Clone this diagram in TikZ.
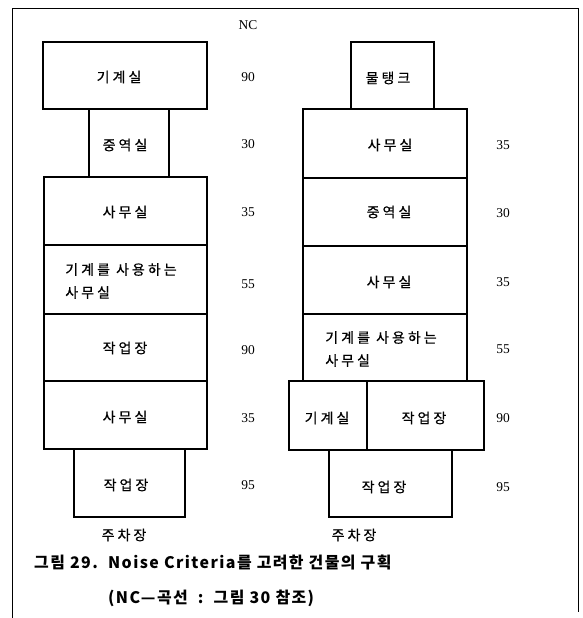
\documentclass[tikz,border=0pt]{standalone}
\usepackage{fontspec}
\setmainfont{Liberation Serif}
\newfontfamily\kr[LetterSpace=22,FakeBold=0.6]{Noto Sans CJK KR}
\newfontfamily\krcap[LetterSpace=9]{Noto Sans CJK KR}
\tikzset{
  room/.style={draw, line width=1.1pt},
  rtext/.style={font=\kr\fontsize{14}{23}\selectfont, inner sep=0pt, align=left},
  num/.style={font=\fontsize{13.5}{15}\selectfont, inner sep=0pt},
  captext/.style={font=\krcap\bfseries\fontsize{16}{17}\selectfont, inner sep=0pt, anchor=west},
}
\begin{document}
\begin{tikzpicture}[x=1bp,y=-1bp]
\useasboundingbox (0,0) rectangle (583,618);
\draw[line width=0.8pt] (12,618) -- (12,8) -- (578,8) -- (578,612);
% left column
\draw[room] (43,42) rectangle (207,109);
\draw[room] (89,109) rectangle (169,177);
\draw[room] (44,177) rectangle (207,245);
\draw[room] (44,245) rectangle (207,314);
\draw[room] (44,314) rectangle (207,381);
\draw[room] (44,381) rectangle (207,449);
\draw[room] (74,449) rectangle (185,517);
\node[rtext] (l1) at (119,77) {기계실};
\node[rtext] (l2) at (125,145) {중역실};
\node[rtext] (l3) at (125,212) {사무실};
\node[rtext] (l4) at (121,281) {기계를 사용하는\\사무실};
\node[rtext] (l5) at (125,348) {작업장};
\node[rtext] (l6) at (125,417) {사무실};
\node[rtext] (l7) at (126,485) {작업장};
\node[rtext] (lp) at (124,535) {주차장};
% right column
\draw[room] (351,42) rectangle (434,109);
\draw[room] (303,109) rectangle (467,178);
\draw[room] (303,178) rectangle (467,246);
\draw[room] (303,246) rectangle (467,314);
\draw[room] (303,314) rectangle (467,381);
\draw[room] (289,381) rectangle (367,450);
\draw[room] (367,381) rectangle (484,450);
\draw[room] (329,450) rectangle (452,517);
\node[rtext] (r1) at (388,78) {물탱크};
\node[rtext] (r2) at (390,145) {사무실};
\node[rtext] (r3) at (389,212) {중역실};
\node[rtext] (r4) at (389,282) {사무실};
\node[rtext] (r5) at (381,349) {기계를 사용하는\\사무실};
\node[rtext] (r6) at (327,418) {기계실};
\node[rtext] (r7) at (424,418) {작업장};
\node[rtext] (r8) at (384,487) {작업장};
\node[rtext] (rp) at (354,535) {주차장};
% NC values
\node[num] (nc) at (248,25) {NC};
\node[num] (a1) at (248,77) {90};
\node[num] (a2) at (248,144) {30};
\node[num] (a3) at (248,212) {35};
\node[num] (a4) at (248,284) {55};
\node[num] (a5) at (248,350) {90};
\node[num] (a6) at (248,418) {35};
\node[num] (a7) at (248,485) {95};
\node[num] (b1) at (503,145) {35};
\node[num] (b2) at (503,213) {30};
\node[num] (b3) at (503,282) {35};
\node[num] (b4) at (503,349) {55};
\node[num] (b5) at (503,418) {90};
\node[num] (b6) at (503,487) {95};
% caption
\node[captext] (c1) at (34,562) {그림 29.\ \ Noise Criteria를 고려한 건물의 구획};
\node[captext] (c2) at (108,598) {(NC—곡선\ \ :\ \ 그림 30 참조)};
\end{tikzpicture}
\end{document}
